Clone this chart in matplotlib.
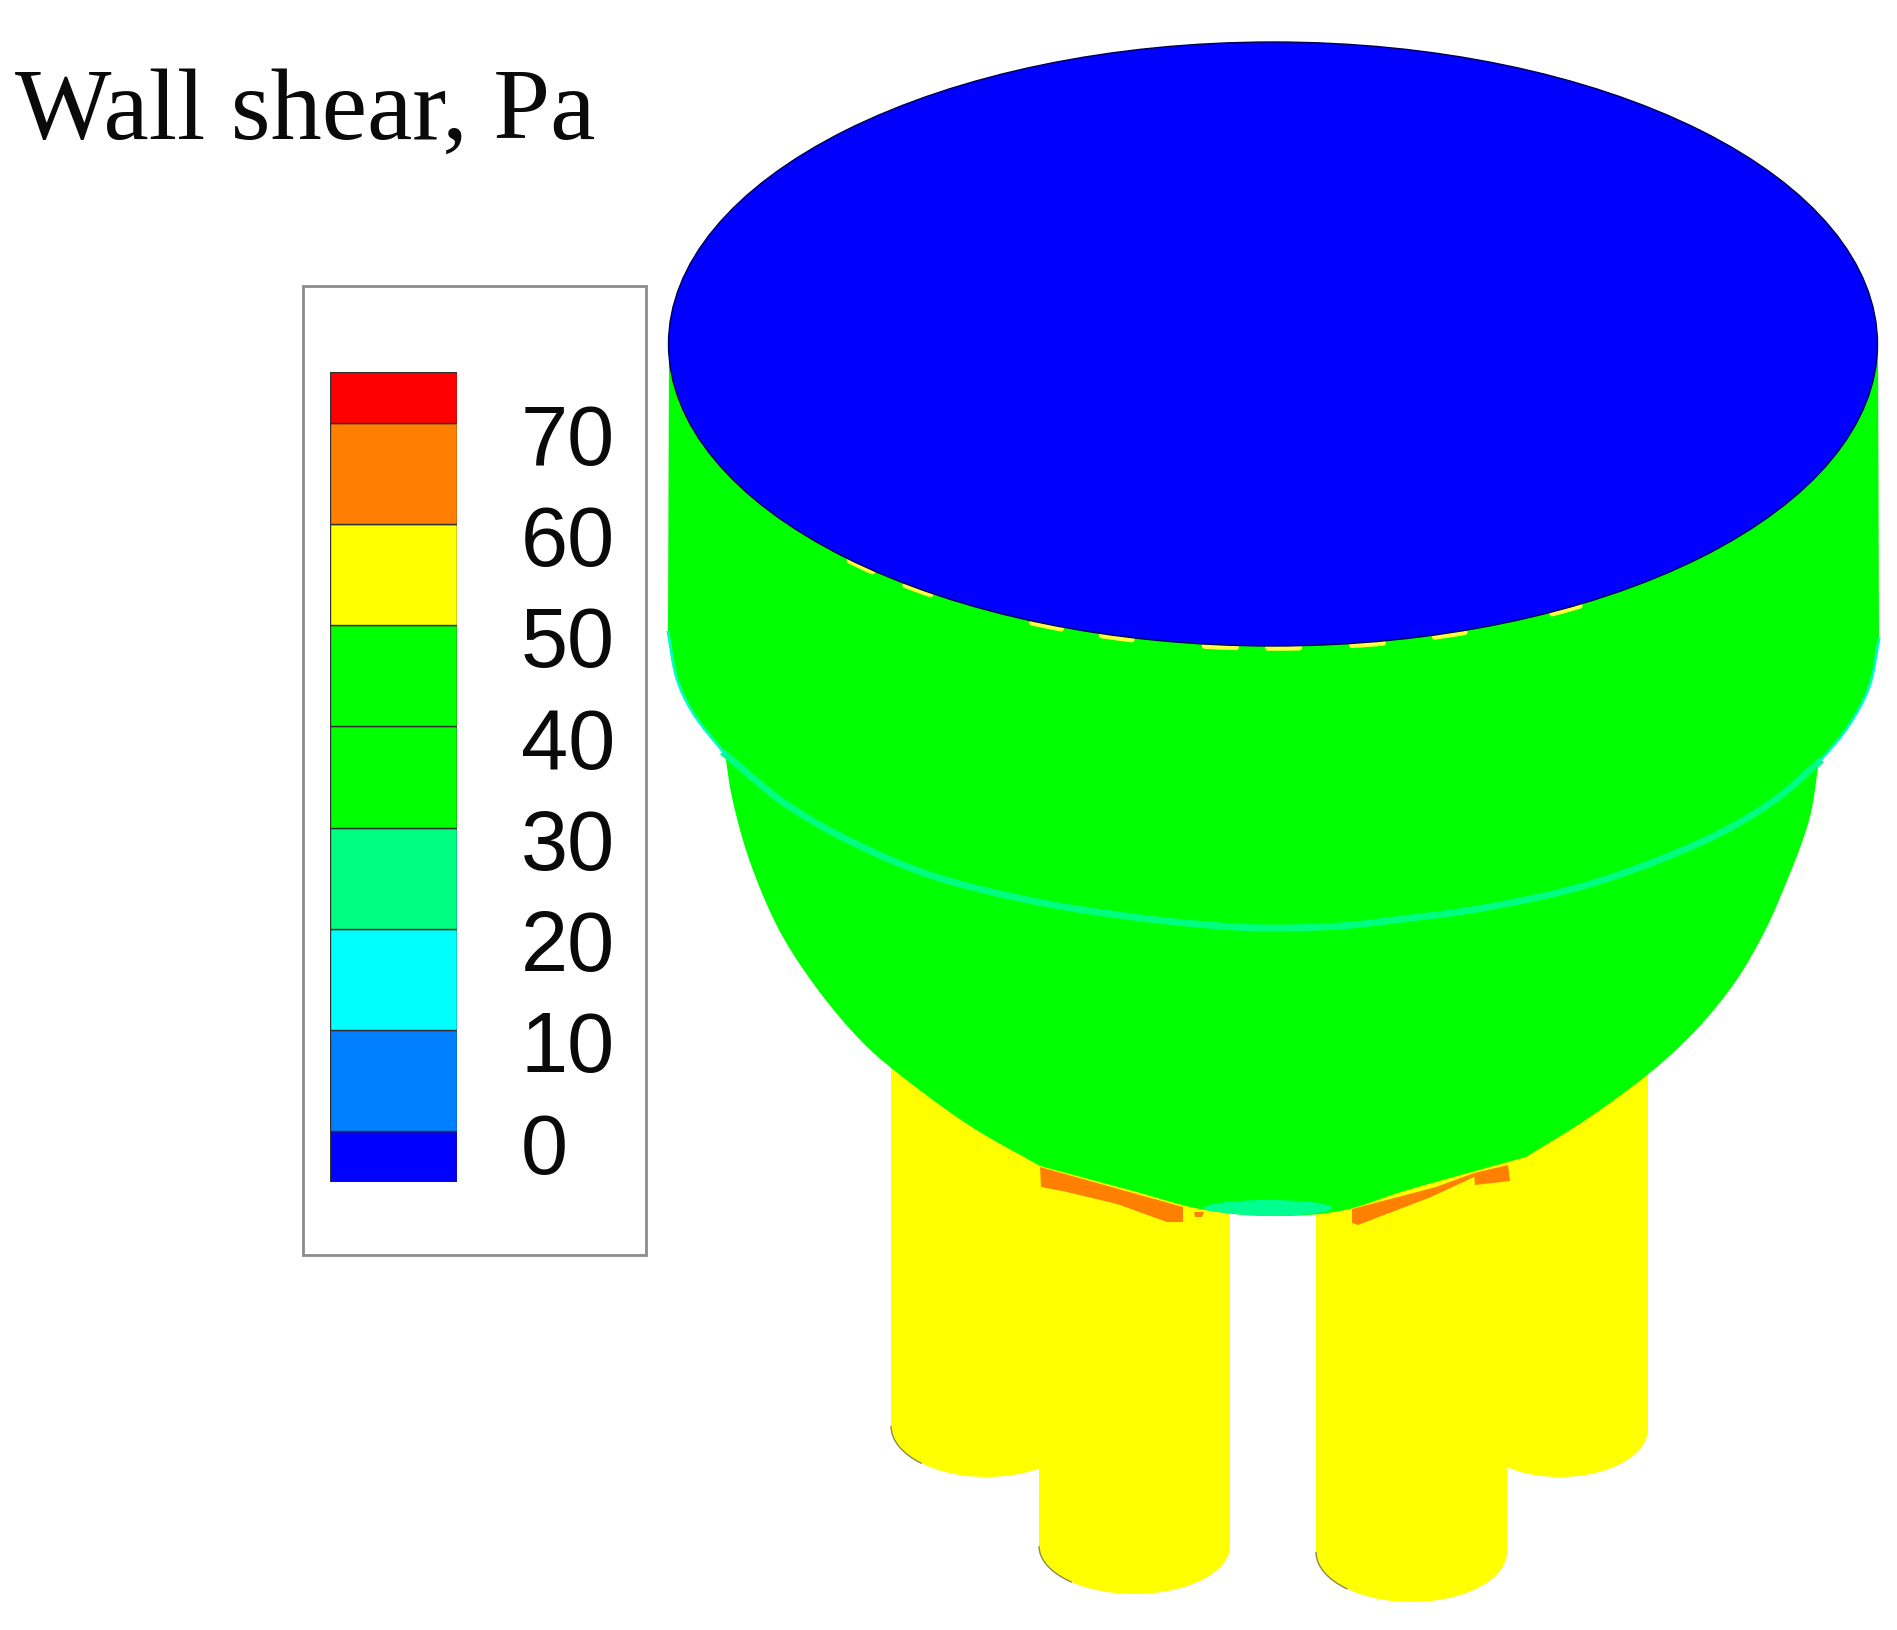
import numpy as np
import matplotlib
matplotlib.use("Agg")
import matplotlib.pyplot as plt
from matplotlib.patches import Ellipse, Rectangle, Polygon, Arc
from matplotlib.transforms import ScaledTranslation

W, H = 1897, 1631

# legend
title = "Wall shear, Pa"
tick_values = [0, 10, 20, 30, 40, 50, 60, 70]
band_edges = [-3.5, 1.5, 11.5, 21.5, 31.5, 41.5, 51.5, 61.5, 71.5, 76.5]
band_colors = ["#0000ff", "#0080ff", "#00ffff", "#00ff80", "#00ff00",
               "#00ff00", "#ffff00", "#ff8000", "#ff0000"]

# geometry, in image pixels
top_center = (1273, 345)
top_size = (1209, 604)
rim_spots = [133, 126, 112, 105, 95, 89, 81, 73, 61]

left_shoulder = [(668, 633), (677, 680), (695, 717), (725, 755)]
right_shoulder = [(1819, 763), (1847, 729), (1869, 688), (1879, 640)]
bowl_left = [(725, 755), (733, 803), (750, 863), (777, 927), (810, 980), (850, 1030),
             (890, 1068), (967, 1125), (1040, 1167)]
bowl_bottom = [(1040, 1167), (1133, 1192), (1200, 1210), (1268, 1217), (1340, 1212),
               (1411, 1190), (1526, 1158)]
bowl_right = [(1526, 1158), (1590, 1118), (1652, 1072), (1697, 1030), (1733, 986),
              (1758, 945), (1779, 901), (1808, 825), (1819, 763)]

band_line = [(725, 755), (783, 803), (850, 842), (933, 877), (1033, 902), (1133, 918),
             (1220, 927), (1275, 929), (1340, 927), (1394, 921), (1483, 909),
             (1590, 885), (1697, 845), (1769, 805), (1819, 763)]

# x left, x right, y where the side ends, cap height
cylinders = [(891, 1082, 1427, 51), (1472, 1648, 1430, 48),
             (1039, 1230, 1547, 48), (1316, 1507, 1553, 50)]

orange_left = [(1040, 1168), (1183, 1208), (1183, 1223), (1167, 1223),
               (1117, 1205), (1067, 1193), (1041, 1188)]
orange_right = [(1352, 1210), (1436, 1188), (1474, 1174), (1474, 1178), (1431, 1198),
                (1358, 1226), (1352, 1224)]
orange_right2 = [(1474, 1174), (1508, 1166), (1510, 1182), (1475, 1186)]
orange_bit = [(1194, 1213), (1204, 1213), (1202, 1218), (1195, 1218)]


def smooth(pts, n=12):
    # catmull-rom through the outline points
    p = np.array(pts, dtype=float)
    p = np.vstack([2 * p[0] - p[1], p, 2 * p[-1] - p[-2]])
    out = []
    for i in range(1, len(p) - 2):
        for t in np.linspace(0, 1, n, endpoint=False):
            a = 2 * p[i] + (p[i + 1] - p[i - 1]) * t
            b = (2 * p[i - 1] - 5 * p[i] + 4 * p[i + 1] - p[i + 2]) * t ** 2
            c = (3 * p[i] - p[i - 1] - 3 * p[i + 1] + p[i + 2]) * t ** 3
            out.append(0.5 * (a + b + c))
    out.append(p[-2])
    return np.array(out)


fig = plt.figure(figsize=(W / 100, H / 100), dpi=100, facecolor="white")
ax = fig.add_axes([0, 0, 1, 1])
ax.set_xlim(0, W)
ax.set_ylim(H, 0)
ax.axis("off")

ax.text(15, 139, title, family="Liberation Serif", fontsize=73.5, color="#0a0a0a",
        va="baseline", ha="left")

# cylinders
for x0, x1, y_end, cap in cylinders:
    ax.add_patch(Rectangle((x0, 1050), x1 - x0, y_end - 1050, fc="#ffff00", ec="none", zorder=2))
    ax.add_patch(Ellipse(((x0 + x1) / 2, y_end), x1 - x0, 2 * cap, fc="#ffff00", ec="none", zorder=2))
    ax.add_patch(Arc(((x0 + x1) / 2, y_end), x1 - x0, 2 * cap, theta1=150, theta2=180,
                     color="#8a8a50", lw=1, zorder=2))

for shape in [orange_left, orange_right, orange_right2, orange_bit]:
    ax.add_patch(Polygon(shape, fc="#ff8000", ec="none", zorder=3))

# green body
body = np.vstack([[(669, 345)], smooth(left_shoulder), smooth(bowl_left), smooth(bowl_bottom),
                  smooth(bowl_right), smooth(right_shoulder), [(1878, 345)]])
body_patch = Polygon(body, fc="#00ff00", ec="none", zorder=4)
ax.add_patch(body_patch)

line = smooth(band_line)
ax.plot(line[:, 0], line[:, 1], color="#00ff80", lw=5, zorder=5)

for part in [left_shoulder, right_shoulder]:
    edge = smooth(part)
    ax.plot(edge[:, 0], edge[:, 1], color="#00ffc0", lw=2, zorder=5)

spot = Ellipse((1268, 1209), 128, 16, fc="#00ff90", ec="none", zorder=5)
ax.add_patch(spot)
spot.set_clip_path(body_patch)

# yellow specks under the rim of the top
for t in rim_spots:
    ang = np.radians(np.linspace(t - 1.5, t + 1.5, 10))
    sx = top_center[0] + top_size[0] / 2 * np.cos(ang)
    sy = top_center[1] + (top_size[1] / 2 + 2) * np.sin(ang)
    ax.plot(sx, sy, color="#ffff40", lw=4, zorder=6, solid_capstyle="round")

ax.add_patch(Ellipse(top_center, top_size[0], top_size[1], fc="#0000ff", ec="#000050",
                     lw=1, zorder=7))

# legend box
ax.add_patch(Rectangle((303, 287), 343, 969, fc="white", ec="#8c8c8c", lw=2, zorder=1))

leg = fig.add_axes([330 / W, 1 - 1183 / H, 127 / W, 810 / H])
edges = np.array(band_edges)
leg.bar(np.zeros(len(band_colors)), np.diff(edges), bottom=edges[:-1], width=1,
        color=band_colors, edgecolor="#303030", linewidth=1)
leg.set_xlim(-0.5, 0.5)
leg.set_ylim(edges[0], edges[-1])
leg.set_xticks([])
leg.yaxis.tick_right()
leg.set_yticks(tick_values)
leg.set_yticklabels([str(v) for v in tick_values], family="Liberation Sans", fontsize=61,
                    color="#0a0a0a", va="center_baseline")
leg.tick_params(axis="y", length=0, pad=46)
up = ScaledTranslation(0, 5 / 100, fig.dpi_scale_trans)
for lab in leg.get_yticklabels():
    lab.set_transform(lab.get_transform() + up)
for s in leg.spines.values():
    s.set_visible(False)
leg.patch.set_alpha(0)

fig.savefig("out.png", dpi=100)
